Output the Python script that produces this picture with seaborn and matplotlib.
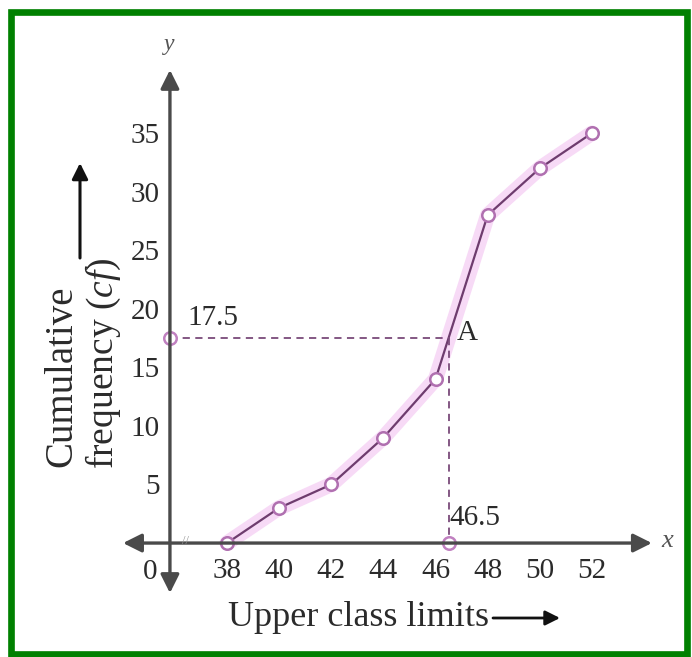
import seaborn as sns
import pandas as pd
import matplotlib.pyplot as plt
from matplotlib.patches import Rectangle

# less-than ogive: upper class limits vs cumulative frequency
upper_limits = [38, 40, 42, 44, 46, 48, 50, 52]
cum_freq = [0, 3, 5, 9, 14, 28, 32, 35]
y_ticks = [5, 10, 15, 20, 25, 30, 35]
median_cf = 17.5
median_x = 46.5

df = pd.DataFrame({'limit': upper_limits, 'cf': cum_freq})

sns.set_style('white')
plt.rcParams['font.family'] = ['Liberation Serif', 'DejaVu Serif']
plt.rcParams['mathtext.fontset'] = 'custom'
plt.rcParams['mathtext.it'] = 'Liberation Serif:italic'
plt.rcParams['mathtext.rm'] = 'Liberation Serif'

W, H = 692, 657
fig = plt.figure(figsize=(W / 100, H / 100), dpi=100)
ax = fig.add_axes([0, 0, 1, 1])

yaxis_x = 35.81  # where the (broken) y axis crosses
txt = '#2b2b2b'
axis_c = '#4a4a4a'

# pink glow under the curve, then the curve itself
sns.lineplot(data=df, x='limit', y='cf', ax=ax, color='#f2c2f0', lw=11, alpha=0.6)
sns.lineplot(data=df, x='limit', y='cf', ax=ax, color='#6e3c6e', lw=1.6,
             marker='o', markersize=9, markerfacecolor='white',
             markeredgecolor='#b070b0', markeredgewidth=1.8)

ax.set_xlim(29.29, 55.84)
ax.set_ylim(-9.73, 46.37)
ax.set_xlabel('')
ax.set_ylabel('')

# axes drawn as double arrows, spines hidden but used for tick placement
for s in ['top', 'right', 'left', 'bottom']:
    ax.spines[s].set_visible(False)
ax.spines['left'].set_position(('data', yaxis_x))
ax.spines['bottom'].set_position(('data', 0))
ax.annotate('', xy=(54.30, 0), xytext=(34.01, 0),
            arrowprops=dict(arrowstyle='<|-|>', mutation_scale=28, lw=2.4, color=axis_c,
                            shrinkA=0, shrinkB=0))
ax.annotate('', xy=(yaxis_x, 40.4), xytext=(yaxis_x, -4.27),
            arrowprops=dict(arrowstyle='<|-|>', mutation_scale=28, lw=2.4, color=axis_c,
                            shrinkA=0, shrinkB=0))

ax.set_xticks(upper_limits)
ax.set_yticks(y_ticks)
ax.tick_params(axis='both', direction='inout', length=17, width=2, color=axis_c,
               labelsize=21, labelcolor=txt)
ax.tick_params(axis='x', pad=2)
ax.tick_params(axis='y', pad=-1)

# median construction
ax.plot([yaxis_x, median_x], [median_cf, median_cf], ls=(0, (4, 3)), color='#7a4a7a', lw=1.3)
ax.plot([median_x, median_x], [median_cf, 0], ls=(0, (4, 3)), color='#7a4a7a', lw=1.3)
ax.plot([yaxis_x, median_x], [median_cf, 0], ls='none', marker='o', markersize=9,
        markerfacecolor='white', markeredgecolor='#c080c0', markeredgewidth=1.8)

ax.text(37.46, 19.2, '17.5', fontsize=21, color=txt, ha='center', va='center')
ax.text(47.2, 17.93, 'A', fontsize=21, color=txt, ha='center', va='center')
ax.text(47.51, 2.13, '46.5', fontsize=21, color=txt, ha='center', va='center')
ax.text(35.05, -2.48, '0', fontsize=21, color=txt, ha='center', va='center')
ax.text(54.88, 0.2, 'x', fontsize=19, style='italic', color='#555555', ha='center', va='center')
ax.text(35.77, 42.6, 'y', fontsize=17, style='italic', color='#555555', ha='center', va='center')
ax.text(36.4, 0.15, '//', fontsize=9, color='#999999', ha='center', va='center')

# axis titles with arrows
fig.text(228 / W, 1 - 618 / H, 'Upper class limits', fontsize=26, color=txt,
         ha='left', va='center')
ax.annotate('', xy=(560 / W, 1 - 618 / H), xytext=(493 / W, 1 - 618 / H),
            xycoords='figure fraction', textcoords='figure fraction',
            arrowprops=dict(arrowstyle='-|>', mutation_scale=22, lw=2, color='#111111',
                            shrinkA=0, shrinkB=0))
fig.text(62 / W, 1 - 376 / H, 'Cumulative', fontsize=28, color=txt, rotation=90,
         ha='center', va='center')
fig.text(103 / W, 1 - 363 / H, 'frequency ($\\mathit{cf}$)', fontsize=27, color=txt,
         rotation=90, ha='center', va='center')
ax.annotate('', xy=(80 / W, 1 - 163 / H), xytext=(80 / W, 1 - 258 / H),
            xycoords='figure fraction', textcoords='figure fraction',
            arrowprops=dict(arrowstyle='-|>', mutation_scale=24, lw=2.2, color='#111111',
                            shrinkA=0, shrinkB=0))

# green frame
fig.patches.append(Rectangle((11 / W, 3.5 / H), 676 / W, 642 / H, transform=fig.transFigure,
                             fill=False, edgecolor='#008000', lw=4.8))

fig.savefig('out.png', dpi=100)
